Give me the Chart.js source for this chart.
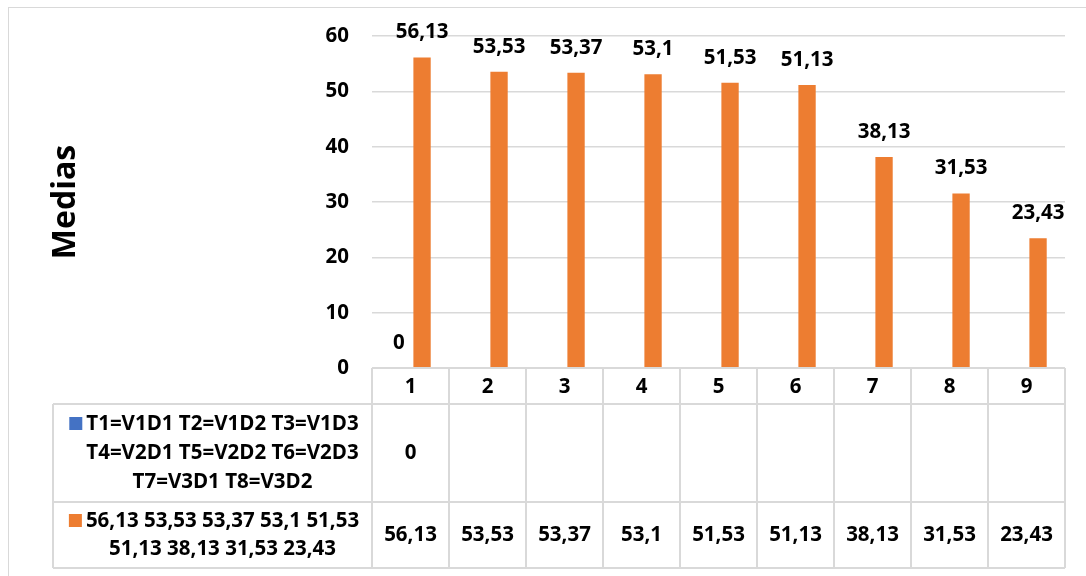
<!DOCTYPE html>
<html>
<head>
<meta charset="utf-8">
<script src="https://cdn.jsdelivr.net/npm/chart.js@4/dist/chart.umd.min.js"></script>
<style>
  html, body { margin: 0; padding: 0; background: #fff; }
  #wrap { width: 1086px; height: 576px; }
</style>
</head>
<body>
<div id="wrap"><canvas id="mediasChart" width="1086" height="576"></canvas></div>
<script>
// Treatments 1..9 and their means
const categories = ['1', '2', '3', '4', '5', '6', '7', '8', '9'];
const blueValues = [0, null, null, null, null, null, null, null, null];
const orangeValues = [56.13, 53.53, 53.37, 53.1, 51.53, 51.13, 38.13, 31.53, 23.43];
const blueName = ['T1=V1D1 T2=V1D2 T3=V1D3', 'T4=V2D1 T5=V2D2 T6=V2D3', 'T7=V3D1 T8=V3D2'];
const orangeName = ['56,13 53,53 53,37 53,1 51,53', '51,13 38,13 31,53 23,43'];
const yTicks = [0, 10, 20, 30, 40, 50, 60];

const BLUE = '#4472C4';
const ORANGE = '#ED7D31';
const GRID = '#d9d9d9';
const FONT = '"Open Sans", "Liberation Sans", sans-serif';
const TXT = 'bold 20.5px ' + FONT;

const fmt = v => String(v).replace('.', ',');

// value labels above each bar
const barLabels = {
  id: 'barLabels',
  afterDatasetsDraw(chart) {
    const ctx = chart.ctx;
    ctx.save();
    ctx.font = TXT;
    ctx.fillStyle = '#000';
    ctx.textAlign = 'center';
    ctx.textBaseline = 'middle';
    chart.data.datasets.forEach((ds, di) => {
      chart.getDatasetMeta(di).data.forEach((bar, i) => {
        const v = ds.data[i];
        if (v === null || v === undefined) return;
        ctx.fillText(fmt(v), bar.x, bar.y - 25);
      });
    });
    ctx.restore();
  }
};

// data table under the plot, Excel style
const dataTable = {
  id: 'dataTable',
  beforeDraw(chart) {
    const ctx = chart.ctx;
    ctx.save();
    ctx.fillStyle = '#fff';
    ctx.fillRect(0, 0, chart.width, chart.height);
    ctx.strokeStyle = GRID;
    ctx.lineWidth = 1;
    ctx.strokeRect(8.5, 7.5, chart.width + 10, chart.height + 10);
    ctx.restore();
  },
  afterDraw(chart) {
    const ctx = chart.ctx;
    const area = chart.chartArea;
    const xs = chart.scales.x;
    const n = categories.length;
    const colW = (area.right - area.left) / n;
    const top = area.bottom;
    const r1 = top + 36;
    const r2 = r1 + 98;
    const r3 = r2 + 66;
    const legLeft = 53;

    ctx.save();
    ctx.strokeStyle = GRID;
    ctx.lineWidth = 2;
    ctx.beginPath();
    // horizontal rules
    ctx.moveTo(area.left, top); ctx.lineTo(area.right, top);
    [r1, r2, r3].forEach(y => { ctx.moveTo(legLeft, y); ctx.lineTo(area.right, y); });
    // vertical rules
    ctx.moveTo(legLeft, r1); ctx.lineTo(legLeft, r3);
    for (let i = 0; i <= n; i++) {
      const x = area.left + i * colW;
      ctx.moveTo(x, top); ctx.lineTo(x, r3);
    }
    ctx.stroke();

    ctx.fillStyle = '#000';
    ctx.font = TXT;
    ctx.textAlign = 'center';
    ctx.textBaseline = 'middle';
    categories.forEach((c, i) => {
      const x = xs.getPixelForValue(i);
      ctx.fillText(c, x, (top + r1) / 2 + 1);
      if (blueValues[i] !== null) ctx.fillText(fmt(blueValues[i]), x, (r1 + r2) / 2);
      if (orangeValues[i] !== null) ctx.fillText(fmt(orangeValues[i]), x, (r2 + r3) / 2);
    });

    // series names with legend keys
    const textCx = (legLeft + area.left) / 2 + 10;
    const drawName = (lines, color, cy, lh) => {
      const y0 = cy - (lines.length - 1) * lh / 2;
      lines.forEach((line, k) => ctx.fillText(line, textCx, y0 + k * lh));
      const w = ctx.measureText(lines[0]).width;
      ctx.fillStyle = color;
      ctx.fillRect(textCx - w / 2 - 17, y0 - 7, 13, 13);
      ctx.fillStyle = '#000';
    };
    drawName(blueName, BLUE, (r1 + r2) / 2, 29);
    drawName(orangeName, ORANGE, (r2 + r3) / 2, 28);
    ctx.restore();
  }
};

new Chart(document.getElementById('mediasChart'), {
  type: 'bar',
  data: {
    labels: categories,
    datasets: [
      { label: blueName.join(' '), data: blueValues, backgroundColor: BLUE },
      { label: orangeName.join(' '), data: orangeValues, backgroundColor: ORANGE }
    ]
  },
  options: {
    responsive: false,
    animation: false,
    layout: { padding: { left: 47, right: 21, top: 36, bottom: 208 } },
    datasets: { bar: { categoryPercentage: 0.6, barPercentage: 0.75 } },
    plugins: { legend: { display: false }, tooltip: { enabled: false } },
    scales: {
      x: { display: false },
      y: {
        min: 0,
        max: 60,
        afterBuildTicks: s => { s.ticks = yTicks.map(v => ({ value: v })); },
        afterFit: s => { s.width = 325; },
        border: { display: false },
        grid: { color: GRID, lineWidth: 1.5, drawTicks: false },
        ticks: {
          padding: 23,
          color: '#000',
          font: { family: FONT, size: 20.5, weight: 'bold' }
        },
        title: {
          display: true,
          text: 'Medias',
          color: '#000',
          padding: 0,
          font: { family: FONT, size: 32, weight: 'bold' }
        }
      }
    }
  },
  plugins: [barLabels, dataTable]
});
</script>
</body>
</html>
